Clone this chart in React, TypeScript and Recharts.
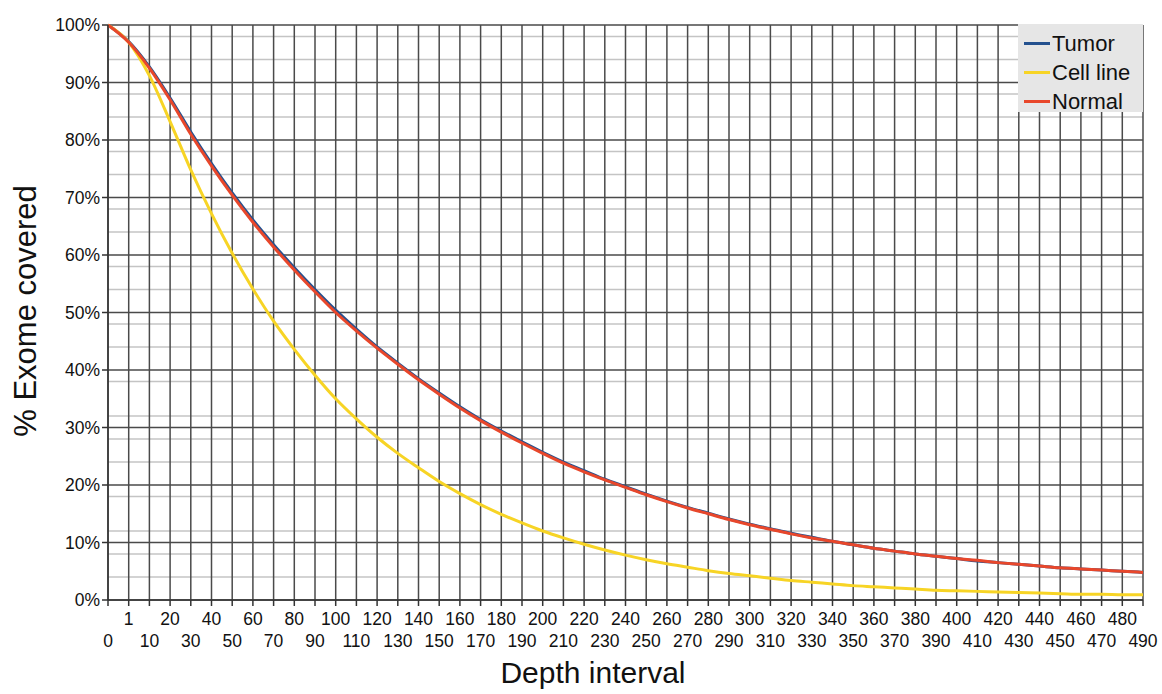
import React from "react";
import { LineChart, Line, XAxis, YAxis, CartesianGrid } from "recharts";

const depths = [
  "0", "1", "10", "20", "30", "40", "50", "60", "70", "80", "90", "100",
  "110", "120", "130", "140", "150", "160", "170", "180", "190", "200",
  "210", "220", "230", "240", "250", "260", "270", "280", "290", "300",
  "310", "320", "330", "340", "350", "360", "370", "380", "390", "400",
  "410", "420", "430", "440", "450", "460", "470", "480", "490",
];

const tumor = [
  100, 97.1, 92.7, 87.3, 81.4, 75.9, 70.8, 66.1, 61.8, 57.8, 54.0, 50.4,
  47.1, 44.0, 41.2, 38.5, 36.0, 33.6, 31.4, 29.4, 27.5, 25.7,
  24.0, 22.5, 21.0, 19.7, 18.4, 17.2, 16.1, 15.1, 14.1, 13.2,
  12.4, 11.6, 10.9, 10.2, 9.6, 9.0, 8.5, 8.0, 7.6, 7.2,
  6.8, 6.5, 6.2, 5.9, 5.6, 5.4, 5.2, 5.0, 4.8,
];

const cellLine = [
  100, 97.0, 91.2, 83.2, 74.8, 67.2, 60.3, 54.1, 48.5, 43.6, 39.1, 35.0,
  31.5, 28.3, 25.5, 23.0, 20.6, 18.5, 16.6, 14.9, 13.4, 12.0,
  10.8, 9.7, 8.7, 7.8, 7.0, 6.3, 5.7, 5.1, 4.6, 4.2,
  3.8, 3.4, 3.1, 2.8, 2.5, 2.3, 2.1, 1.9, 1.7, 1.6,
  1.5, 1.4, 1.3, 1.2, 1.1, 1.0, 1.0, 0.9, 0.9,
];

const normal = [
  100, 97.0, 92.5, 87.0, 81.0, 75.5, 70.4, 65.7, 61.4, 57.4, 53.6, 50.0,
  46.8, 43.8, 41.0, 38.3, 35.8, 33.4, 31.2, 29.2, 27.3, 25.5,
  23.8, 22.3, 20.9, 19.6, 18.3, 17.1, 16.0, 15.0, 14.0, 13.1,
  12.3, 11.5, 10.8, 10.2, 9.6, 9.0, 8.5, 8.0, 7.6, 7.2,
  6.9, 6.5, 6.2, 5.9, 5.6, 5.4, 5.2, 5.0, 4.8,
];

const majorTicks = [0, 10, 20, 30, 40, 50, 60, 70, 80, 90, 100];
const minorTicks = [
  2, 4, 6, 8, 12, 14, 16, 18, 22, 24, 26, 28, 32, 34, 36, 38, 42, 44, 46, 48,
  52, 54, 56, 58, 62, 64, 66, 68, 72, 74, 76, 78, 82, 84, 86, 88, 92, 94, 96, 98,
];

const series = [
  { key: "tumor", name: "Tumor", color: "#24518f" },
  { key: "cellLine", name: "Cell line", color: "#f7d425" },
  { key: "normal", name: "Normal", color: "#e8472b" },
];

const data = depths.map((d, i) => ({
  depth: d,
  tumor: tumor[i],
  cellLine: cellLine[i],
  normal: normal[i],
}));

const font = "'Liberation Sans', Arial, Helvetica, sans-serif";

const XTick = (props: any) => {
  const { x, y, payload, index } = props;
  const top = index % 2 === 1;
  return (
    <text
      x={x}
      y={y + (top ? 17 : 39)}
      textAnchor="middle"
      fontSize={17.5}
      fontFamily={font}
      fill="#111"
    >
      {payload.value}
    </text>
  );
};

// legend drawn as an overlay so it doesn't shrink the plot area
const LegendBox = () => (
  <div
    style={{
      position: "absolute",
      left: 1018,
      top: 24,
      background: "#e6e6e6",
      width: 125,
      height: 88,
      boxSizing: "border-box",
      paddingTop: 5,
      paddingLeft: 6,
      fontFamily: font,
      fontSize: 22,
      color: "#111",
    }}
  >
    {series.map((s) => (
      <div
        key={s.key}
        style={{ display: "flex", alignItems: "center", height: 29 }}
      >
        <div
          style={{ width: 26, height: 3, background: s.color, marginRight: 2 }}
        />
        <span>{s.name}</span>
      </div>
    ))}
  </div>
);

export default function App() {
  return (
    <div style={{ position: "absolute", left: 0, top: 0, width: 1162, height: 694 }}>
      <LineChart
        width={1162}
        height={694}
        data={data}
        margin={{ top: 25, right: 19, bottom: 0, left: 0 }}
      >
        <CartesianGrid
          horizontalValues={minorTicks}
          vertical={false}
          stroke="#c4c4c4"
          strokeWidth={1.5}
        />
        <CartesianGrid
          horizontalValues={majorTicks}
          stroke="#4a4a4a"
          strokeWidth={1.5}
        />
        <XAxis
          dataKey="depth"
          interval={0}
          height={94}
          tick={<XTick />}
          tickSize={6}
          stroke="#333"
          strokeWidth={1.5}
          label={() => (
            <text
              x={593}
              y={683}
              textAnchor="middle"
              fontSize={30}
              fontFamily={font}
              fill="#111"
            >
              Depth interval
            </text>
          )}
        />
        <YAxis
          domain={[0, 100]}
          ticks={majorTicks}
          width={108}
          tickFormatter={(v) => `${v}%`}
          tick={{ fontSize: 17.5, fill: "#111", fontFamily: font }}
          tickSize={6}
          stroke="#333"
          strokeWidth={1.5}
          label={() => (
            <text
              x={36}
              y={311}
              transform="rotate(-90 36 311)"
              textAnchor="middle"
              fontSize={31}
              fontFamily={font}
              fill="#111"
            >
              % Exome covered
            </text>
          )}
        />
        {series.map((s) => (
          <Line
            key={s.key}
            type="monotone"
            dataKey={s.key}
            name={s.name}
            stroke={s.color}
            strokeWidth={3}
            dot={false}
            isAnimationActive={false}
          />
        ))}
      </LineChart>
      <LegendBox />
    </div>
  );
}
